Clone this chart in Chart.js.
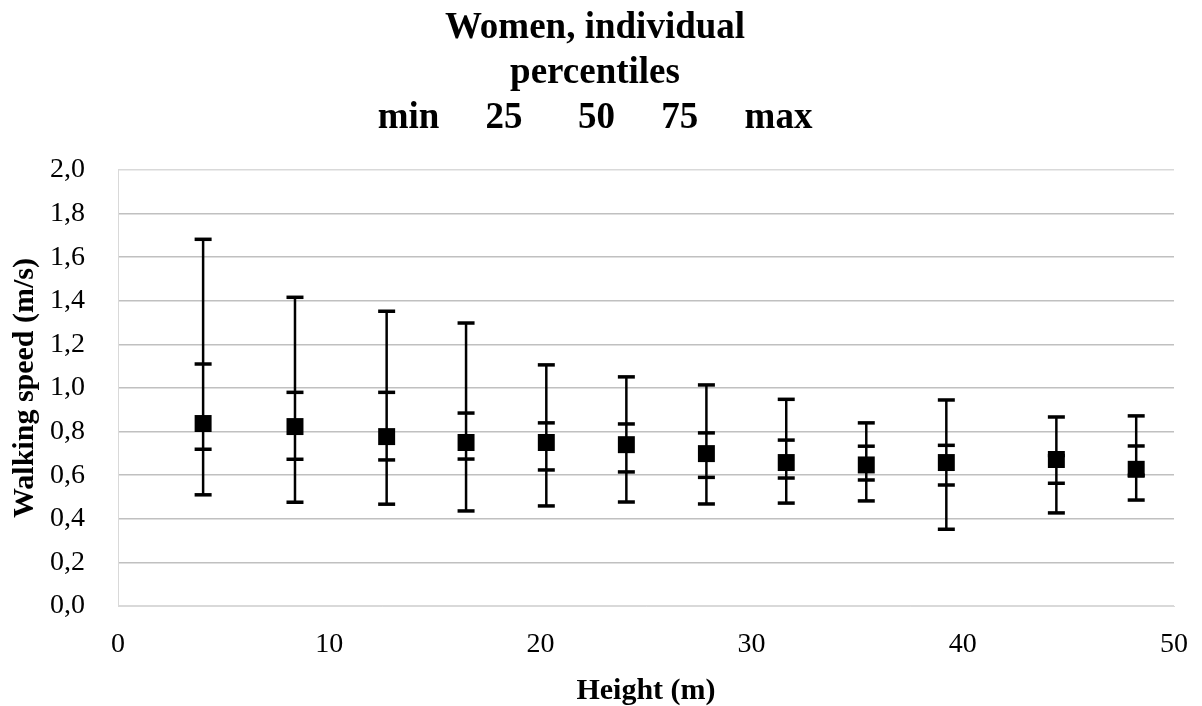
<!DOCTYPE html>
<html lang="en">
<head>
    <meta charset="UTF-8">
    <title>Women, individual percentiles</title>
    <script src="https://cdn.jsdelivr.net/npm/chart.js"></script>
    <style>
        body { margin: 0; background: #fff; }
        .wrap { width: 1202px; height: 706px; }
    </style>
</head>
<body>
    <div class="wrap">
        <canvas id="speedChart"></canvas>
    </div>

    <script>
        // height of each group (m)
        const heights = [4.03, 8.38, 12.72, 16.48, 20.28, 24.07, 27.86, 31.64, 35.43, 39.22, 44.43, 48.21];
        // walking speed percentiles (m/s)
        const pMin = [0.51, 0.476, 0.467, 0.436, 0.459, 0.477, 0.468, 0.472, 0.482, 0.352, 0.427, 0.486];
        const p25  = [0.719, 0.673, 0.67, 0.674, 0.624, 0.615, 0.59, 0.587, 0.578, 0.555, 0.563, 0.60];
        const p50  = [0.837, 0.823, 0.777, 0.75, 0.75, 0.74, 0.699, 0.658, 0.647, 0.658, 0.672, 0.627];
        const p75  = [1.11, 0.98, 0.98, 0.885, 0.84, 0.835, 0.794, 0.761, 0.733, 0.737, 0.69, 0.734];
        const pMax = [1.682, 1.416, 1.352, 1.298, 1.106, 1.051, 1.014, 0.948, 0.84, 0.945, 0.867, 0.872];

        const titleLines = ['Women, individual', 'percentiles', 'min     25      50     75     max'];

        // whiskers + caps, drawn under the median squares
        const whiskers = {
            id: 'whiskers',
            beforeDatasetsDraw(chart) {
                const ctx = chart.ctx;
                const xs = chart.scales.x, ys = chart.scales.y;
                ctx.save();
                ctx.strokeStyle = '#000';
                heights.forEach((h, i) => {
                    const x = xs.getPixelForValue(h);
                    ctx.lineWidth = 2.5;
                    ctx.beginPath();
                    ctx.moveTo(x, ys.getPixelForValue(pMin[i]));
                    ctx.lineTo(x, ys.getPixelForValue(pMax[i]));
                    ctx.stroke();
                    ctx.lineWidth = 3.5;
                    [pMin[i], p25[i], p75[i], pMax[i]].forEach(v => {
                        const y = ys.getPixelForValue(v);
                        ctx.beginPath();
                        ctx.moveTo(x - 8.5, y);
                        ctx.lineTo(x + 8.5, y);
                        ctx.stroke();
                    });
                });
                ctx.restore();
            }
        };

        const serif = 'Liberation Serif, Times New Roman, serif';

        new Chart(document.getElementById('speedChart'), {
            type: 'scatter',
            data: {
                datasets: [{
                    label: 'median',
                    data: heights.map((h, i) => ({ x: h, y: p50[i] })),
                    pointStyle: 'rect',
                    pointRadius: 12,
                    pointBorderWidth: 0,
                    backgroundColor: '#000',
                    borderColor: '#000'
                }]
            },
            options: {
                responsive: true,
                maintainAspectRatio: false,
                animation: false,
                layout: { padding: { left: 16, right: 28, top: 0, bottom: 0 } },
                plugins: {
                    legend: { display: false },
                    tooltip: { enabled: false },
                    title: {
                        display: true,
                        text: titleLines,
                        color: '#000',
                        font: { family: serif, size: 37, weight: 'bold', lineHeight: 1.216 },
                        padding: { top: 6, bottom: 29 }
                    }
                },
                scales: {
                    x: {
                        type: 'linear',
                        min: 0,
                        max: 50,
                        ticks: { stepSize: 10, color: '#000', padding: 22, font: { family: serif, size: 28 } },
                        grid: { display: false, drawTicks: false },
                        border: { display: true, color: '#d9d9d9', width: 1 },
                        title: {
                            display: true,
                            text: 'Height (m)',
                            color: '#000',
                            font: { family: serif, size: 30, weight: 'bold' },
                            padding: { top: 0, bottom: -3 }
                        },
                        afterFit(scale) {
                            scale.height = 100;
                            // layout padding already leaves room for the end labels
                            scale.paddingLeft = 0;
                            scale.paddingRight = 0;
                        }
                    },
                    y: {
                        min: 0,
                        max: 2,
                        ticks: {
                            stepSize: 0.2,
                            color: '#000',
                            padding: 33,
                            font: { family: serif, size: 28 },
                            callback: v => v.toFixed(1).replace('.', ',')
                        },
                        grid: {
                            drawTicks: false,
                            lineWidth: 1.5,
                            color: c => (c.tick && (c.tick.value === 0 || c.tick.value === 2)) ? '#d9d9d9' : '#c0c0c0'
                        },
                        border: { display: true, color: '#d9d9d9', width: 1 },
                        title: {
                            display: true,
                            text: 'Walking speed (m/s)',
                            color: '#000',
                            font: { family: serif, size: 30, weight: 'bold' },
                            padding: { top: -9, bottom: 0 }
                        },
                        afterFit(scale) { scale.width = 102; }
                    }
                }
            },
            plugins: [whiskers]
        });
    </script>
</body>
</html>
